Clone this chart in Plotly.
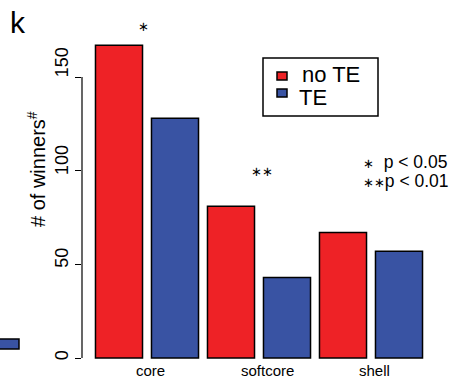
import plotly.graph_objects as go

categories = ["core", "softcore", "shell"]
no_te = [167, 81, 67]
te = [128, 43, 57]
y_ticks = [0, 50, 100, 150]
sig_labels = ["∗", "∗∗", ""]

RED = "#EE2226"
BLUE = "#3953A3"
FONT = "Liberation Sans, Arial, sans-serif"
STAR = "DejaVu Sans"

W, H = 450, 385
AX_PX = 82  # y-axis position in pixels
y0_px, y150_px = 358, 77
ppu = (y0_px - y150_px) / 150.0
y_range = [-(H - y0_px) / ppu, y0_px / ppu]
# tick labels in the reference are spread slightly wider than the ticks
lab150_px = 65
ppu_lab = (y0_px - lab150_px) / 150.0
y2_range = [-(H - y0_px) / ppu_lab, y0_px / ppu_lab]
grp_px = 112.0
core_px = 147.0
x_r0 = -(core_px - AX_PX) / grp_px
x_r1 = x_r0 + (W - AX_PX) / grp_px


def px(x):
    return x / W


def py(y):
    return 1 - y / H


fig = go.Figure()
fig.add_trace(go.Bar(x=categories, y=no_te, name="no TE",
                     marker=dict(color=RED, line=dict(color="black", width=1.5))))
fig.add_trace(go.Bar(x=categories, y=te, name="TE",
                     marker=dict(color=BLUE, line=dict(color="black", width=1.5))))
# invisible trace to activate label axis
fig.add_trace(go.Scatter(x=[categories[0]], y=[0], yaxis="y2", mode="markers",
                         marker=dict(opacity=0), hoverinfo="skip", showlegend=False))

fig.update_layout(
    width=W, height=H,
    margin=dict(l=0, r=0, t=0, b=0),
    paper_bgcolor="white", plot_bgcolor="white",
    barmode="group", bargap=0.0, bargroupgap=0.16,
    font=dict(family=FONT, color="black"),
    showlegend=False,
    xaxis=dict(domain=[AX_PX / W, 1], range=[x_r0, x_r1], showticklabels=False,
               showline=False, showgrid=False, zeroline=False, ticks=""),
    yaxis=dict(domain=[0, 1], range=y_range, tickvals=y_ticks,
               ticks="outside", ticklen=6, tickwidth=1.2, tickcolor="black",
               showticklabels=False,
               showline=False, showgrid=False, zeroline=False),
    yaxis2=dict(domain=[0, 1], range=y2_range, tickvals=y_ticks, overlaying="y",
                anchor="x", side="left",
                ticks="outside", ticklen=6, tickcolor="rgba(0,0,0,0)",
                tickangle=-90, tickfont=dict(size=18, family=FONT),
                showline=False, showgrid=False, zeroline=False),
)

# y axis line spanning only 0..max tick (R style)
fig.add_shape(type="line", xref="paper", yref="y", x0=AX_PX / W, x1=AX_PX / W,
              y0=y_ticks[0], y1=y_ticks[-1], line=dict(color="black", width=1.2))

# category labels
label_off = [0.03, 0.08, 0.03]
for i, c in enumerate(categories):
    fig.add_annotation(x=i + label_off[i], y=py(370), xref="x", yref="paper",
                       text=c, showarrow=False, font=dict(size=15, family=FONT),
                       xanchor="center", yanchor="middle")

# significance stars above groups
sig_pos = [(-0.035, py(17)), (0.03, py(172))]
for i, s in enumerate(sig_labels):
    if not s:
        continue
    xs, ys = sig_pos[i]
    fig.add_annotation(x=i + xs, y=ys, xref="x", yref="paper", text=s,
                       showarrow=False, font=dict(size=13, family=STAR))

# p-value key
fig.add_annotation(x=px(361), y=py(162), xref="paper", yref="paper",
                   text="<span style='font-family:DejaVu Sans;font-size:13px'>∗</span>  p < 0.05",
                   showarrow=False, xanchor="left",
                   yanchor="middle", font=dict(size=17.5, family=FONT))
fig.add_annotation(x=px(361), y=py(181), xref="paper", yref="paper",
                   text="<span style='font-family:DejaVu Sans;font-size:13px'>∗∗</span>p < 0.01",
                   showarrow=False, xanchor="left",
                   yanchor="middle", font=dict(size=17.5, family=FONT))

# legend (drawn manually, R style)
fig.add_shape(type="rect", xref="paper", yref="paper", x0=px(263), x1=px(378),
              y0=py(116), y1=py(58), line=dict(color="black", width=1.5),
              fillcolor="white")
for (name, col, sy, ty, tx) in [("no TE", RED, 76, 75, 300), ("TE", BLUE, 93, 98, 297)]:
    fig.add_shape(type="rect", xref="paper", yref="paper", x0=px(277), x1=px(287),
                  y0=py(sy + 4), y1=py(sy - 4), fillcolor=col,
                  line=dict(color="black", width=1.5))
    fig.add_annotation(x=px(tx), y=py(ty), xref="paper", yref="paper", text=name,
                       showarrow=False, xanchor="left", yanchor="middle",
                       font=dict(size=22, family=FONT))

# y title
fig.add_annotation(x=px(36), y=py(169), xref="paper", yref="paper",
                   text="# of winners<sup>#</sup>", textangle=-90, showarrow=False,
                   font=dict(size=20, family=FONT), xanchor="center", yanchor="middle")

# panel letter
fig.add_annotation(x=px(8), y=py(22), xref="paper", yref="paper", text="k",
                   showarrow=False, xanchor="left", yanchor="middle",
                   font=dict(size=30, family=FONT))

# fragment of neighbouring panel
fig.add_shape(type="rect", xref="paper", yref="paper", x0=-0.01, x1=px(19),
              y0=py(349), y1=py(339), fillcolor=BLUE,
              line=dict(color="black", width=1.5))

fig.write_html("out.html")
